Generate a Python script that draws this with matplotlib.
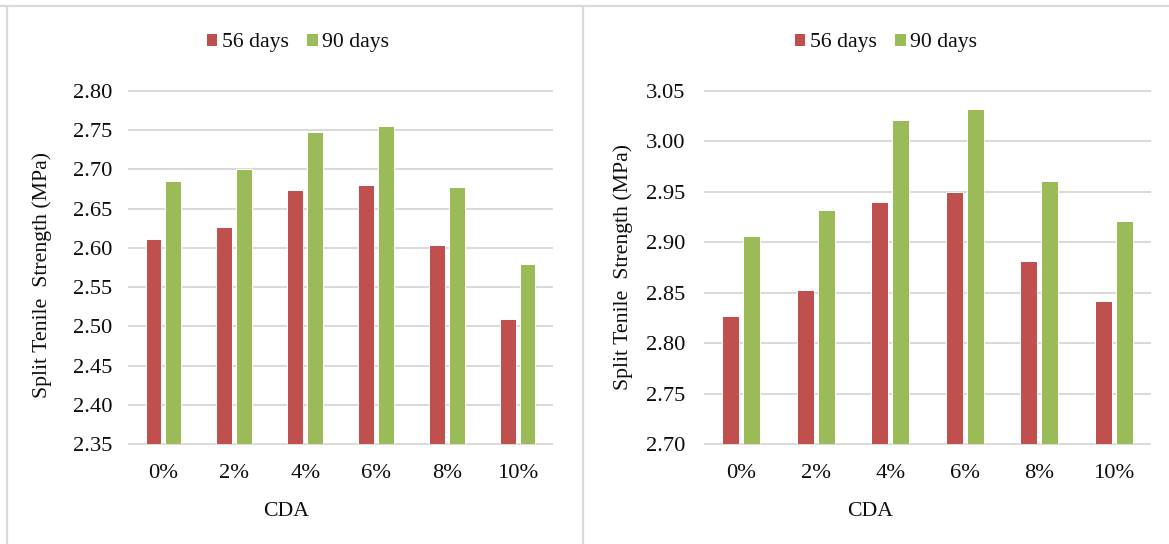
import matplotlib
matplotlib.use("Agg")
import matplotlib.pyplot as plt
from matplotlib.lines import Line2D
from matplotlib.patches import Patch
import numpy as np

plt.rcParams['font.family'] = ['Liberation Serif', 'DejaVu Serif']

categories = ["0%", "2%", "4%", "6%", "8%", "10%"]
series_names = ["56 days", "90 days"]

left_56 = [2.611, 2.627, 2.673, 2.680, 2.604, 2.510]
left_90 = [2.685, 2.700, 2.748, 2.755, 2.677, 2.580]
left_ticks = [2.35, 2.40, 2.45, 2.50, 2.55, 2.60, 2.65, 2.70, 2.75, 2.80]

right_56 = [2.827, 2.853, 2.940, 2.950, 2.881, 2.842]
right_90 = [2.906, 2.932, 3.021, 3.032, 2.961, 2.921]
right_ticks = [2.70, 2.75, 2.80, 2.85, 2.90, 2.95, 3.00, 3.05]

RED = "#C0504D"
GREEN = "#9BBB59"
GRID = "#D9D9D9"
TEXT = "#0d0d0d"
FS = 15.7
FS_TICK = 16.2

W, H = 1169, 544
fig = plt.figure(figsize=(W / 100, H / 100), dpi=100)


def px_axes(x0, x1, y0, y1):
    return fig.add_axes([x0 / W, 1 - y1 / H, (x1 - x0) / W, (y1 - y0) / H])


def draw_panel(ax, s56, s90, ticks, ypad, ylabel_xy, xlabel_xy, legend_xy):
    x = np.arange(len(categories))
    ymin, ymax = ticks[0], ticks[-1]
    bw, off = 0.225, 0.14
    ax.bar(x - off, np.array(s56) - ymin, bw, bottom=ymin, color=RED,
           edgecolor="white", linewidth=0.7, zorder=2, label=series_names[0])
    ax.bar(x + off, np.array(s90) - ymin, bw, bottom=ymin, color=GREEN,
           edgecolor="white", linewidth=0.7, zorder=2, label=series_names[1])
    ax.set_xlim(-0.5, len(categories) - 0.5)
    ax.set_ylim(ymin, ymax)
    ax.hlines(ticks, -0.5, len(categories) - 0.5, colors=GRID, linewidth=1.4,
              zorder=1, clip_on=False)
    for sp in ax.spines.values():
        sp.set_visible(False)
    ax.set_yticks(ticks)
    ax.set_yticklabels([f"{t:.2f}" for t in ticks])
    ax.set_xticks(x)
    ax.set_xticklabels(categories)
    ax.tick_params(axis="y", length=0, pad=ypad, labelsize=FS_TICK, labelcolor=TEXT)
    ax.tick_params(axis="x", length=0, pad=14, labelsize=FS_TICK, labelcolor=TEXT)
    fig.text(ylabel_xy[0] / W, 1 - ylabel_xy[1] / H, "Split Tenile  Strength (MPa)",
             rotation=90, ha="center", va="center", fontsize=FS, color=TEXT)
    fig.text(xlabel_xy[0] / W, 1 - xlabel_xy[1] / H, "CDA",
             ha="center", va="center", fontsize=FS, color=TEXT)
    handles = [Patch(facecolor=RED, edgecolor="none"), Patch(facecolor=GREEN, edgecolor="none")]
    ax.legend(handles, series_names, loc="center",
              bbox_to_anchor=(legend_xy[0] / W, 1 - legend_xy[1] / H),
              bbox_transform=fig.transFigure, ncol=2, frameon=False,
              fontsize=FS, handlelength=0.5, handleheight=0.5,
              handletextpad=0.2, columnspacing=0.85, labelcolor=TEXT)


ax_l = px_axes(128, 553, 90.7, 444.3)
draw_panel(ax_l, left_56, left_90, left_ticks, 11.5, (42.5, 275), (286, 512), (298, 43))

ax_r = px_axes(704, 1151, 90.7, 444.3)
draw_panel(ax_r, right_56, right_90, right_ticks, 13.5, (623, 267), (870, 512), (886, 43))

# panel frames
for xs, ys in [((0, 1), (1 - 6 / H, 1 - 6 / H)),
               ((6.5 / W, 6.5 / W), (0, 1 - 6 / H)),
               ((582.7 / W, 582.7 / W), (0, 1 - 6 / H))]:
    fig.add_artist(Line2D(xs, ys, transform=fig.transFigure, color=GRID, linewidth=1.6))

fig.savefig("out.png", dpi=100, facecolor="white")
